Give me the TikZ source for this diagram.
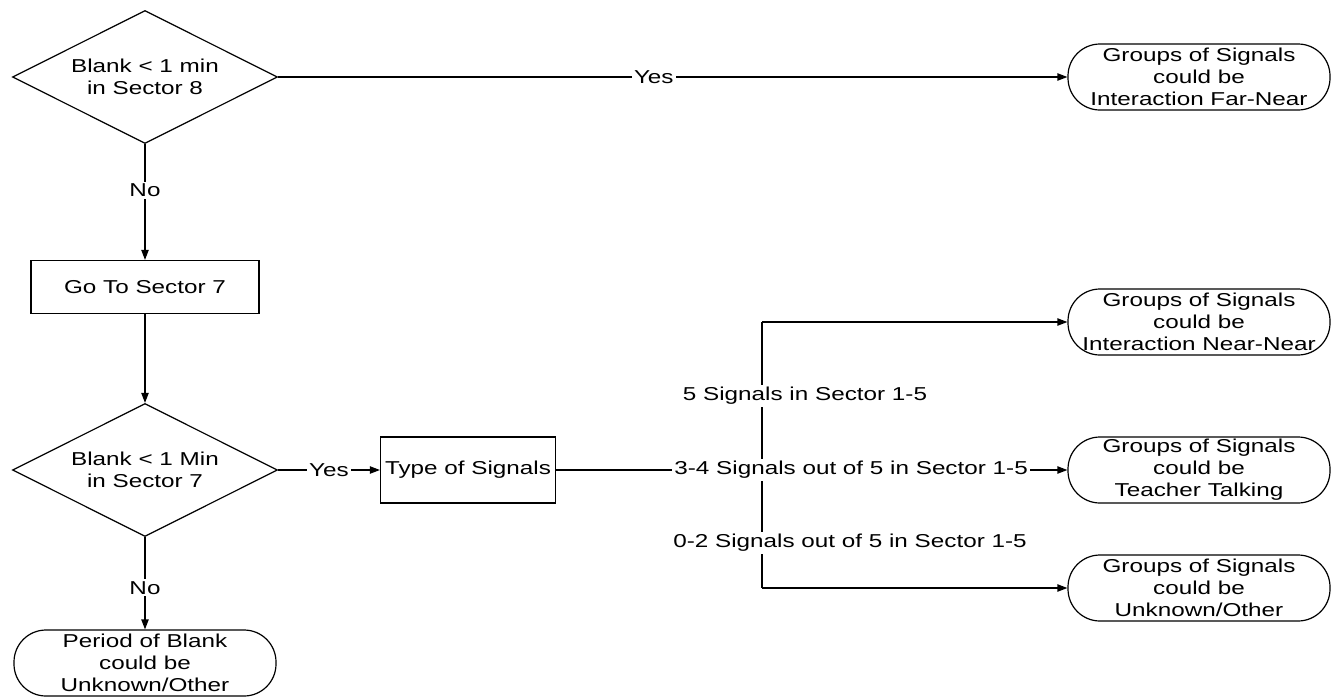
\documentclass[tikz,border=0pt]{standalone}
\usepackage{fontspec}
\setmainfont{Liberation Sans}[FakeStretch=1.3]
\usetikzlibrary{shapes.geometric,arrows.meta}

\tikzset{every picture/.style={line width=0.9pt}}
\tikzset{
	decision/.style={draw,diamond,aspect=2,inner sep=0pt,minimum width=198.75pt,minimum height=99.75pt,align=center},
	process/.style={draw,rectangle,inner sep=0pt,align=center},
	terminal/.style={draw,rectangle,rounded corners=24pt,inner sep=0pt,minimum width=196.5pt,minimum height=49.5pt,align=center},
	edgelabel/.style={fill=white,inner sep=1.5pt},
	flow/.style={-{Triangle[length=7.5pt,width=5.5pt]}}
}

\begin{document}
\begin{tikzpicture}[x=0.75pt,y=0.75pt,yscale=-1,xscale=1,every node/.style={font=\fontsize{14pt}{16.5pt}\selectfont}]
	\useasboundingbox (0,0) rectangle (1332,697);
	
	% Decision
	\node [decision] (q8) at (145,77) {Blank < 1 min\\in Sector 8};
	% Terminal
	\node [terminal] (farnear) at (1199,77) {Groups of Signals\\could be\\Interaction Far-Near};
	% Process
	\node [process,minimum width=171pt,minimum height=39.75pt] (go7) at (145,287) {Go To Sector 7};
	% Decision
	\node [decision] (q7) at (145,470) {Blank < 1 Min\\in Sector 7};
	% Process
	\node [process,minimum width=131.25pt,minimum height=49.5pt] (sigtype) at (468,470) {Type of Signals};
	% Terminal
	\node [terminal] (nearnear) at (1199,322) {Groups of Signals\\could be\\Interaction Near-Near};
	% Terminal
	\node [terminal] (teacher) at (1199,470) {Groups of Signals\\could be\\Teacher Talking};
	% Terminal
	\node [terminal] (unknown) at (1199,588) {Groups of Signals\\could be\\Unknown/Other};
	% Terminal
	\node [terminal] (blank) at (145,663) {Period of Blank\\could be\\Unknown/Other};
	
	% Branch points
	\coordinate (jtop) at (762,322);
	\coordinate (jbot) at (762,588);
	
	% Connection
	\draw [flow] (q8.east) -- node [edgelabel,pos=0.476] {Yes} (farnear.west);
	% Connection
	\draw [flow] (q8.south) -- node [edgelabel,pos=0.4] {No} (go7.north);
	% Connection
	\draw [flow] (go7.south) -- (q7.north);
	% Connection
	\draw [flow] (q7.east) -- node [edgelabel] {Yes} (sigtype.west);
	% Connection
	\draw [flow] (q7.south) -- node [edgelabel,pos=0.55] {No} (blank.north);
	% Connection
	\draw (jtop) -- (jbot);
	\draw [flow] (jtop) -- (nearnear.west);
	\draw [flow] (jbot) -- (unknown.west);
	\draw [flow] (sigtype.east) -- node [edgelabel,pos=0.577] (lblmid) {3-4 Signals out of 5 in Sector 1-5} (teacher.west);
	% Text Node
	\node [edgelabel] (lbltop) at (805,396) {5 Signals in Sector 1-5};
	% Text Node
	\node [edgelabel] (lblbot) at (850,543) {0-2 Signals out of 5 in Sector 1-5};
	
\end{tikzpicture}
\end{document}
